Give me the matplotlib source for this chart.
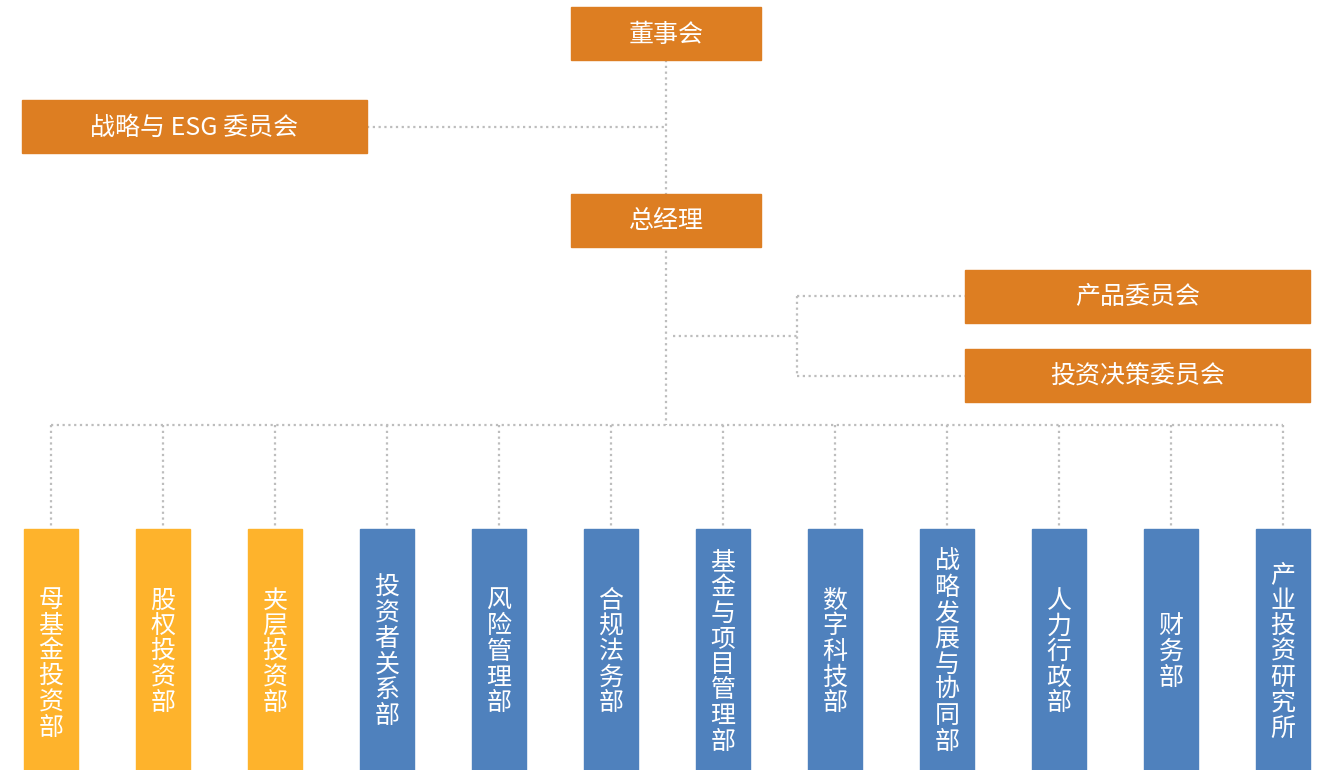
import matplotlib.pyplot as plt
from matplotlib.patches import Rectangle

plt.rcParams['font.family'] = ['Noto Sans CJK SC', 'DejaVu Sans']

# top-level nodes
top_labels = ['董事会', '战略与 ESG 委员会', '总经理', '产品委员会', '投资决策委员会']
# departments (bottom row); first three are investment lines
dept_labels = ['母基金投资部', '股权投资部', '夹层投资部', '投资者关系部', '风险管理部',
               '合规法务部', '基金与项目管理部', '数字科技部', '战略发展与协同部',
               '人力行政部', '财务部', '产业投资研究所']
dept_group = ['invest'] * 3 + ['support'] * 9

ORANGE = '#DD7E22'
YELLOW = '#FEB32C'
BLUE = '#4F81BD'
LINE = '#BDBDBD'

W, H = 1325, 770
fig = plt.figure(figsize=(W / 100, H / 100), dpi=100)
ax = fig.add_axes([0, 0, 1, 1])
ax.set_xlim(0, W)
ax.set_ylim(H, 0)
ax.axis('off')

# box geometry (x0, y0, x1, y1) for the top nodes
top_boxes = [(571, 7, 761, 60), (22, 100, 367, 153), (571, 194, 761, 247),
             (965, 270, 1310, 323), (965, 349, 1310, 402)]


def dotted(xs, ys):
    ax.plot(xs, ys, color=LINE, lw=1.6, ls=(0, (1, 1.6)), zorder=1,
            solid_capstyle='butt')


for (x0, y0, x1, y1), lab in zip(top_boxes, top_labels):
    ax.add_patch(Rectangle((x0, y0), x1 - x0, y1 - y0, color=ORANGE, zorder=2))
    ax.text((x0 + x1) / 2, (y0 + y1) / 2 + 1, lab, color='white',
            fontsize=18, ha='center', va='center', zorder=3)

# trunk and branches
trunk_x = 666
bar_y = 425
dotted([trunk_x, trunk_x], [60, bar_y])
dotted([367, trunk_x], [127, 127])
dotted([673, 797], [336, 336])
dotted([797, 797], [296, 376])
dotted([797, 965], [296, 296])
dotted([797, 965], [376, 376])

# department columns
n = len(dept_labels)
left_c, right_c = 51, 1283
step = (right_c - left_c) / (n - 1)
centers = [left_c + i * step for i in range(n)]
dotted([left_c, right_c], [bar_y, bar_y])

bw = 54
by0 = 529
for i, (cx, lab, grp) in enumerate(zip(centers, dept_labels, dept_group)):
    dotted([cx, cx], [bar_y, by0])
    col = YELLOW if grp == 'invest' else BLUE
    ax.add_patch(Rectangle((cx - bw / 2, by0), bw, H - by0, color=col, zorder=2))
    ty = 664 if i == 0 else 652  # first label sits a bit lower in the original
    ax.text(cx, ty, '\n'.join(lab), color='white', fontsize=18,
            ha='center', va='center', linespacing=0.98, zorder=3)

fig.savefig('out.png', dpi=100)
